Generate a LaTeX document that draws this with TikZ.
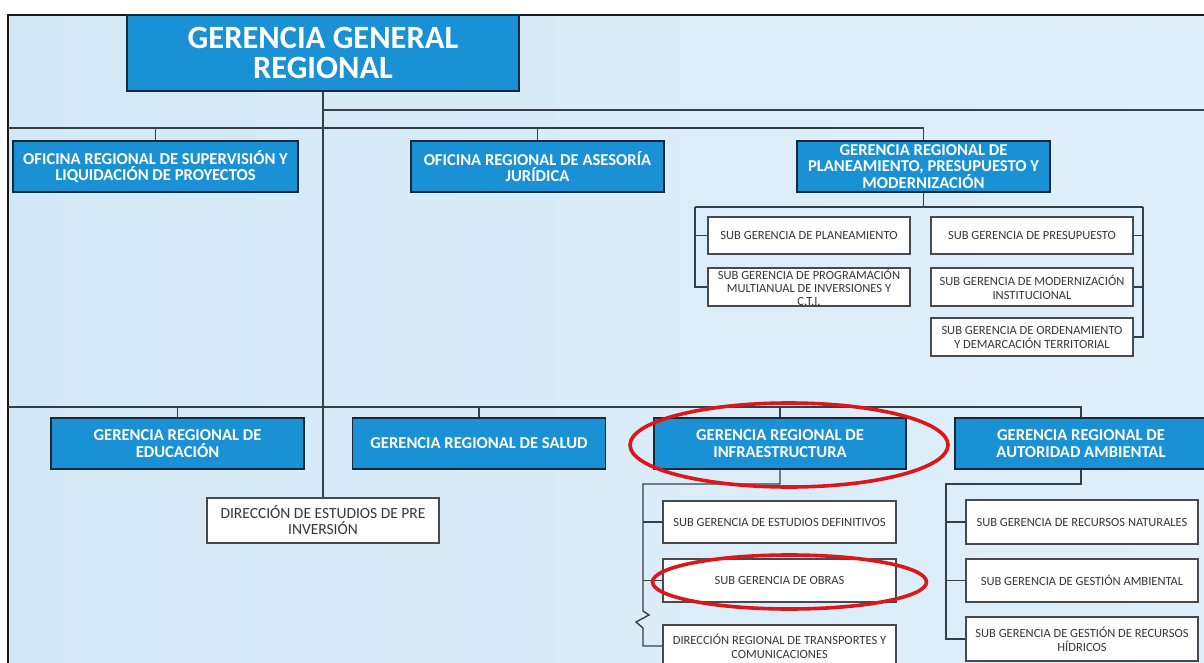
\documentclass[tikz,border=0pt]{standalone}
\usepackage{fontspec}
\setmainfont{Carlito}
\definecolor{bgA}{RGB}{211,232,246}
\definecolor{bgB}{RGB}{223,240,250}
\definecolor{boxblue}{RGB}{26,145,212}
\definecolor{navy}{RGB}{22,40,58}
\definecolor{conn}{RGB}{55,62,72}
\definecolor{wbord}{RGB}{70,74,80}
\definecolor{txtgray}{RGB}{55,55,55}
\definecolor{markred}{RGB}{222,22,26}
\definecolor{framec}{RGB}{25,25,25}
\begin{document}
\begin{tikzpicture}[x=1pt,y=-1pt,
  bluebox/.style={draw=navy, line width=1.9pt, fill=boxblue, text=white,
    font=\bfseries\fontsize{16.6}{16.8}\selectfont, align=center, inner sep=0pt,
    minimum width=253pt, minimum height=51pt},
  subbox/.style={draw=wbord, line width=1.3pt, fill=white, text=txtgray,
    font=\fontsize{12.5}{14}\selectfont, align=center, inner sep=0pt},
  link/.style={draw=conn, line width=1.4pt},
  redring/.style={draw=markred, line width=3.6pt}]
\clip (0,0) rectangle (1204,663);
\fill[white] (0,0) rectangle (1204,663);
\shade[left color=bgA, right color=bgB] (8,15) rectangle (1204,663);
\draw[framec, line width=2pt] (8,663) -- (8,15) -- (1204,15);

% top level
\node[bluebox, minimum width=392pt, minimum height=76pt,
  font=\bfseries\fontsize{32.5}{30.5}\selectfont] (title) at (323,53) {GERENCIA GENERAL\\REGIONAL};

\node[bluebox, minimum width=285pt] (sup) at (155.5,166.5) {OFICINA REGIONAL DE SUPERVISIÓN Y\\LIQUIDACIÓN DE PROYECTOS};
\node[bluebox] (ase) at (537.5,166.5) {OFICINA REGIONAL DE ASESORÍA\\JURÍDICA};
\node[bluebox] (plan) at (923.5,166.5) {GERENCIA REGIONAL DE\\PLANEAMIENTO, PRESUPUESTO Y\\MODERNIZACIÓN};

% planeamiento sub units
\node[subbox, minimum width=202pt, minimum height=37pt] (sgplan) at (809,235.5) {SUB GERENCIA DE PLANEAMIENTO};
\node[subbox, minimum width=202pt, minimum height=38pt, font=\fontsize{12.5}{13}\selectfont] (sgprog) at (809,287) {SUB GERENCIA DE PROGRAMACIÓN\\MULTIANUAL DE INVERSIONES Y\\C.T.I.};
\node[subbox, minimum width=202pt, minimum height=37pt] (sgpres) at (1032,235.5) {SUB GERENCIA DE PRESUPUESTO};
\node[subbox, minimum width=202pt, minimum height=38pt] (sgmod) at (1032,287) {SUB GERENCIA DE MODERNIZACIÓN\\INSTITUCIONAL};
\node[subbox, minimum width=202pt, minimum height=38pt] (sgord) at (1032,337) {SUB GERENCIA DE ORDENAMIENTO\\Y DEMARCACIÓN TERRITORIAL};

% second level
\node[bluebox] (edu) at (177.5,443.5) {GERENCIA REGIONAL DE\\EDUCACIÓN};
\node[bluebox] (salud) at (479,443.5) {GERENCIA REGIONAL DE SALUD};
\node[bluebox, minimum width=252pt] (infra) at (780,443.5) {GERENCIA REGIONAL DE\\INFRAESTRUCTURA};
\node[bluebox, minimum width=252pt] (amb) at (1081,443.5) {GERENCIA REGIONAL DE\\AUTORIDAD AMBIENTAL};

\node[subbox, minimum width=232pt, minimum height=45pt, font=\fontsize{15.5}{16}\selectfont] (direst) at (323,520.5) {DIRECCIÓN DE ESTUDIOS DE PRE\\INVERSIÓN};

\node[subbox, minimum width=233pt, minimum height=42pt] (sgest) at (779.5,522) {SUB GERENCIA DE ESTUDIOS DEFINITIVOS};
\node[subbox, minimum width=233pt, minimum height=43pt] (sgobr) at (779.5,580.5) {SUB GERENCIA DE OBRAS};
\node[subbox, minimum width=233pt, minimum height=42pt] (dirtrans) at (779.5,646) {DIRECCIÓN REGIONAL DE TRANSPORTES Y\\COMUNICACIONES};

\node[subbox, minimum width=232pt, minimum height=44pt] (sgrn) at (1082,522) {SUB GERENCIA DE RECURSOS NATURALES};
\node[subbox, minimum width=232pt, minimum height=43pt] (sgga) at (1082,580.5) {SUB GERENCIA DE GESTIÓN AMBIENTAL};
\node[subbox, minimum width=232pt, minimum height=44pt] (sggh) at (1082,639) {SUB GERENCIA DE GESTIÓN DE RECURSOS\\HÍDRICOS};

% connectors: top
\coordinate (r110) at (1204,110);
\draw[link] (title.south) -- (direst.north);
\draw[link] (title.south |- r110) -- (r110);
\coordinate (l128) at (8,128);
\draw[link] (l128) -- (plan.north |- l128) -- (plan.north);
\draw[link] (sup.north |- l128) -- (sup.north);
\draw[link] (ase.north |- l128) -- (ase.north);

% planeamiento brackets
\coordinate (pb) at (923.5,207);
\coordinate (pl) at (695,207);
\coordinate (pr) at (1143,207);
\draw[link] (plan.south) -- (pb);
\draw[link] (pl) -- (pr);
\draw[link] (pl) -- (pl |- sgprog.west) -- (sgprog.west);
\draw[link] (pl |- sgplan.west) -- (sgplan.west);
\draw[link] (pr) -- (pr |- sgord.east) -- (sgord.east);
\draw[link] (pr |- sgpres.east) -- (sgpres.east);
\draw[link] (pr |- sgmod.east) -- (sgmod.east);

% second level bus
\coordinate (l407) at (8,407);
\draw[link] (l407) -- (amb.north |- l407) -- (amb.north);
\draw[link] (edu.north |- l407) -- (edu.north);
\draw[link] (salud.north |- l407) -- (salud.north);
\draw[link] (infra.north |- l407) -- (infra.north);

% infraestructura bracket
\coordinate (ib) at (780,484);
\coordinate (il) at (643,484);
\draw[link] (infra.south) -- (ib) -- (il) -- (643,611) -- (649,615) -- (636,622) -- (643,628) -- (il |- dirtrans.west) -- (dirtrans.west);
\draw[link] (il |- sgest.west) -- (sgest.west);
\draw[link] (il |- sgobr.west) -- (sgobr.west);

% ambiental bracket
\coordinate (ab) at (1081,484);
\coordinate (al) at (946,484);
\draw[link] (amb.south) -- (ab) -- (al) -- (al |- sggh.west) -- (sggh.west);
\draw[link] (al |- sgrn.west) -- (sgrn.west);
\draw[link] (al |- sgga.west) -- (sgga.west);

% red highlight rings
\draw[redring] (789,445) ellipse [x radius=159pt, y radius=42pt];
\draw[redring] (789.5,582) ellipse [x radius=137pt, y radius=27pt];
\end{tikzpicture}
\end{document}
